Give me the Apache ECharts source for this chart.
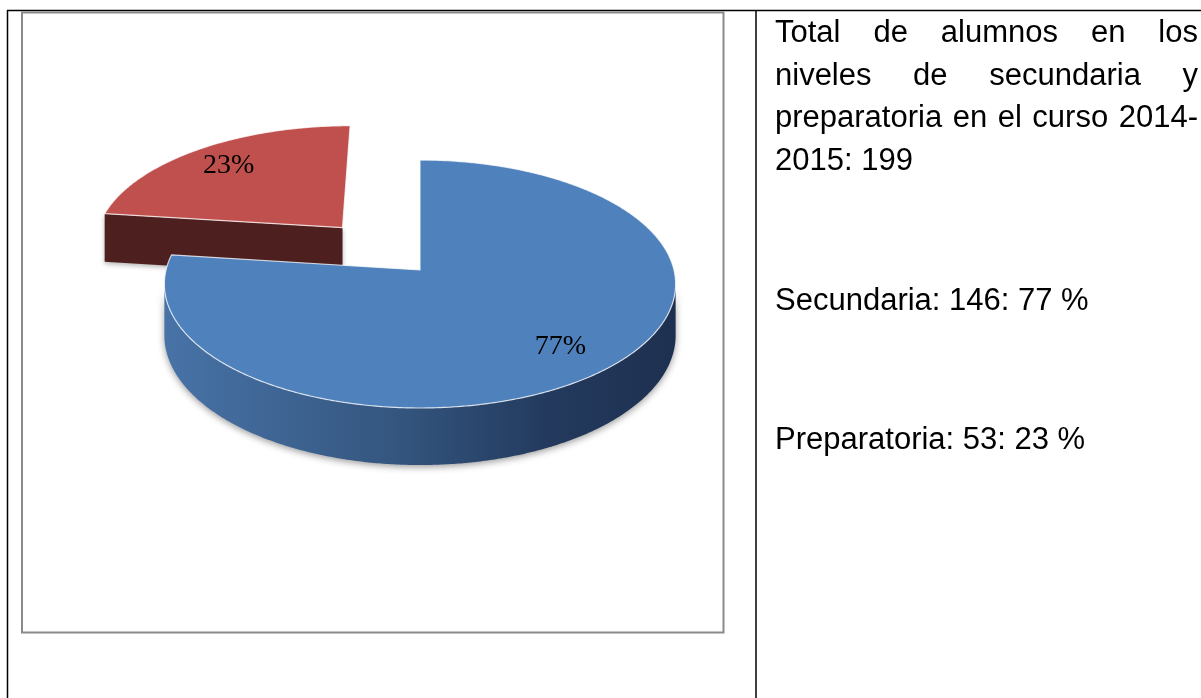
<!DOCTYPE html>
<html><head><meta charset="utf-8">
<script src="https://cdn.jsdelivr.net/npm/echarts@6/dist/echarts.min.js"></script>
<style>html,body{margin:0;padding:0;background:#fff}#c{width:1201px;height:698px}</style>
</head><body><div id="c"></div>
<script>
// ---------- data ----------
const categories = ['Secundaria', 'Preparatoria'];
const pieShares = [77, 23];
const pieLabels = ['77%', '23%'];
const explode = [0, 0.48];
const infoLines = ['Total de alumnos en los', 'niveles de secundaria y', 'preparatoria en el curso 2014-', '2015: 199'];
const detailLines = ['Secundaria: 146: 77 %', 'Preparatoria: 53: 23 %'];

// ---------- styles ----------
const topColors = ['#4F81BD', '#C0504D'];
const sideStops = [
  [[0, '#4873A7'], [0.45, '#34567F'], [0.75, '#233A5E'], [1, '#1E3050']],
  [[0, '#5A2423'], [1, '#4A1D1C']]
];
const cutColors = ['#2B4468', '#4D1F1E'];

const CX = 420, CY = 270, AX = 254, AY = 122.4, B = 0.113, H = 50.6;
function proj(u, v, z) {
  const p = 1 / (1 + B * v);
  return [CX + AX * u * p, CY - AY * v * p + z * H * p];
}
const D2R = Math.PI / 180;
const total = pieShares.reduce((a, b) => a + b, 0);
let acc = 0;
const slices = pieShares.map((val, i) => {
  const t0 = acc / total * 360, t1 = (acc + val) / total * 360;
  acc += val;
  const a = (90 - t1) * D2R, b = (90 - t0) * D2R;
  const mid = (a + b) / 2;
  return { a, b, mid, ou: explode[i] * Math.cos(mid), ov: explode[i] * Math.sin(mid) };
});
const order = slices.map((s, i) => i).sort((i, j) => slices[j].ov - slices[i].ov);
const rank = [];
order.forEach((idx, r) => rank[idx] = r);

function renderItem(params, api) {
  const i = params.dataIndex;
  const s = slices[i];
  const base = rank[i] * 10;
  const children = [];
  const step = 0.5 * D2R;
  const n = Math.max(2, Math.ceil((s.b - s.a) / step));
  const thetas = [];
  for (let k = 0; k <= n; k++) thetas.push(s.a + (s.b - s.a) * k / n);
  const vis = th => -1 - s.ou * Math.cos(th) - (1 / B + s.ov) * Math.sin(th) > 0;
  let run = [];
  const flush = () => {
    if (run.length > 1) {
      const pts = run.map(th => proj(s.ou + Math.cos(th), s.ov + Math.sin(th), 0));
      const bot = run.slice().reverse().map(th => proj(s.ou + Math.cos(th), s.ov + Math.sin(th), 1));
      children.push({
        type: 'polygon', z2: base + 1,
        shape: { points: pts.concat(bot) },
        style: {
          fill: new echarts.graphic.LinearGradient(0, 0, 1, 0, sideStops[i].map(st => ({ offset: st[0], color: st[1] }))),
          shadowBlur: 7, shadowColor: 'rgba(0,0,0,0.4)', shadowOffsetY: 2
        }
      });
    }
    run = [];
  };
  thetas.forEach(th => { if (vis(th)) run.push(th); else flush(); });
  flush();
  const w = [-s.ou, -1 / B - s.ov];
  const wl = Math.hypot(w[0], w[1]);
  const faces = [
    { th: s.a, n: [Math.sin(s.a), -Math.cos(s.a)] },
    { th: s.b, n: [-Math.sin(s.b), Math.cos(s.b)] }
  ];
  faces.forEach(f => {
    const d = (f.n[0] * w[0] + f.n[1] * w[1]) / wl;
    if (d > 0.1) {
      const eu = s.ou + Math.cos(f.th), ev = s.ov + Math.sin(f.th);
      children.push({
        type: 'polygon', z2: base + 2,
        shape: { points: [proj(s.ou, s.ov, 0), proj(eu, ev, 0), proj(eu, ev, 1), proj(s.ou, s.ov, 1)] },
        style: { fill: cutColors[i], shadowBlur: 5, shadowColor: 'rgba(0,0,0,0.3)', shadowOffsetY: 2 }
      });
    }
  });
  const topPts = [proj(s.ou, s.ov, 0)].concat(thetas.map(th => proj(s.ou + Math.cos(th), s.ov + Math.sin(th), 0)));
  children.push({
    type: 'polygon', z2: base + 3,
    shape: { points: topPts },
    style: { fill: topColors[i], stroke: 'rgba(255,255,255,0.75)', lineWidth: 1.2, lineJoin: 'round' }
  });
  const lp = proj(s.ou + 0.78 * Math.cos(s.mid), s.ov + 0.78 * Math.sin(s.mid), 0);
  children.push({
    type: 'text', z2: 100, x: lp[0], y: lp[1],
    style: { text: pieLabels[i], fill: '#000', font: '28px "Liberation Serif"', align: 'center', verticalAlign: 'middle' }
  });
  return { type: 'group', children };
}

// ---------- text layout ----------
const FONT = '31px "Liberation Sans"';
const ctx = document.createElement('canvas').getContext('2d');
ctx.font = FONT;
function textEls(line, x0, x1, y, justify) {
  const els = [];
  if (!justify) {
    els.push({ type: 'text', x: x0, y, style: { text: line, font: FONT, fill: '#000', align: 'left', verticalAlign: 'middle' } });
    return els;
  }
  const words = line.split(' ');
  const ws = words.map(wd => ctx.measureText(wd).width);
  const sum = ws.reduce((a, b) => a + b, 0);
  const gap = (x1 - x0 - sum) / (words.length - 1);
  let x = x0;
  words.forEach((wd, k) => {
    els.push({ type: 'text', x, y, style: { text: wd, font: FONT, fill: '#000', align: 'left', verticalAlign: 'middle' } });
    x += ws[k] + gap;
  });
  return els;
}
const graphics = [
  { type: 'line', shape: { x1: 7, y1: 10.5, x2: 1201, y2: 10.5 }, style: { stroke: '#000', lineWidth: 1.5 } },
  { type: 'line', shape: { x1: 7.5, y1: 10, x2: 7.5, y2: 698 }, style: { stroke: '#000', lineWidth: 1.5 } },
  { type: 'line', shape: { x1: 756, y1: 10, x2: 756, y2: 698 }, style: { stroke: '#000', lineWidth: 1.5 } },
  { type: 'rect', shape: { x: 22, y: 12.5, width: 701.5, height: 620 }, style: { fill: 'none', stroke: '#8a8a8a', lineWidth: 2 } }
];
const lineYs = [33.5, 76.2, 118.8, 161.5];
infoLines.forEach((ln, k) => graphics.push(...textEls(ln, 775, 1198, lineYs[k], k < infoLines.length - 1)));
const detailYs = [301.5, 440.5];
detailLines.forEach((ln, k) => graphics.push(...textEls(ln, 775, 1198, detailYs[k], false)));

const chart = echarts.init(document.getElementById('c'), null, { renderer: 'canvas' });
chart.setOption({
  animation: false,
  backgroundColor: '#fff',
  graphic: graphics,
  series: [{
    type: 'custom',
    coordinateSystem: 'none',
    renderItem,
    data: categories.map((c, i) => ({ name: c, value: pieShares[i] }))
  }]
});
</script></body></html>
